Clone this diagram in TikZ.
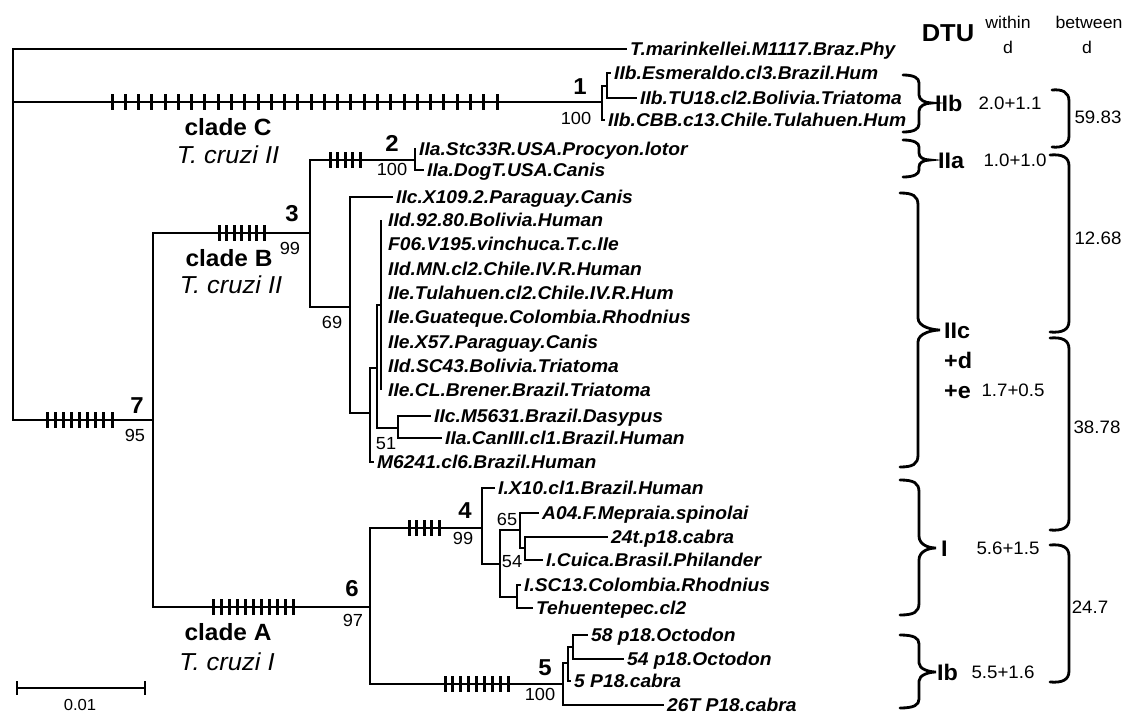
\documentclass[tikz,border=0pt]{standalone}
\usepackage{fontspec}
\setmainfont[FakeStretch=1.04]{Liberation Sans}
\newcommand\fTip{\fontsize{18.5}{21}\selectfont\bfseries\itshape}
\newcommand\fNum{\fontsize{23}{26}\selectfont\bfseries}
\newcommand\fBoot{\fontsize{17.5}{20}\selectfont}
\newcommand\fClade{\fontsize{23.5}{26}\selectfont\bfseries}
\newcommand\fCruzi{\fontsize{24.5}{27}\selectfont\itshape}
\newcommand\fDTU{\fontsize{24.5}{27}\selectfont\bfseries}
\newcommand\fHead{\fontsize{17}{19}\selectfont}
\newcommand\fGrp{\fontsize{22.5}{25}\selectfont\bfseries}
\newcommand\fVal{\fontsize{18}{21}\selectfont}
\newcommand\fBar{\fontsize{16}{19}\selectfont}
% ticks: x1, x2, y, n-1
\newcommand\tickrow[4]{\foreach \k in {0,...,#4}{\draw[tk] ({#1+\k*(#2-#1)/#4},#3-8) -- ++(0,16);}}
% DTU brace: x0, xv, xt, ytop, ymid, ybot, r
\newcommand\dbrace[7]{\draw[brace] (#1,#4) .. controls (#2-5,#4) and (#2,#4+3) .. (#2,#4+#7) -- (#2,#5-#7) .. controls (#2,#5-3) and (#3-7,#5) .. (#3,#5) .. controls (#3-7,#5) and (#2,#5+3) .. (#2,#5+#7) -- (#2,#6-#7) .. controls (#2,#6-3) and (#2-5,#6) .. (#1,#6);}
% between bracket: x0, xv, ytop, ybot
\newcommand\bbrace[4]{\draw[brace] (#1,#3) .. controls (#2-7,#3-1) and (#2,#3+2) .. (#2,#3+11) -- (#2,#4-11) .. controls (#2,#4-2) and (#2-7,#4+1) .. (#1,#4);}
\begin{document}
\begin{tikzpicture}[x=1pt,y=-1pt,
  br/.style={line width=2pt},
  tk/.style={line width=3pt},
  brace/.style={line width=2.8pt, line cap=round},
  tip/.style={font=\fTip, anchor=base west, inner sep=0pt, xshift=3pt, yshift=-6.6pt},
  num/.style={font=\fNum, anchor=base, inner sep=0pt, yshift=-8.2pt},
  boot/.style={font=\fBoot, anchor=base, inner sep=0pt, yshift=-6.3pt},
  clade/.style={font=\fClade, anchor=base, inner sep=0pt, yshift=-8.4pt},
  cruzi/.style={font=\fCruzi, anchor=base, inner sep=0pt, yshift=-8.8pt},
  head/.style={font=\fHead, anchor=base, inner sep=0pt, yshift=-6pt},
  grp/.style={font=\fGrp, anchor=base west, inner sep=0pt, yshift=-8pt},
  val/.style={font=\fVal, anchor=base, inner sep=0pt, yshift=-6.4pt}]
\useasboundingbox (0,0) rectangle (1128,715);
\fill[white] (0,0) rectangle (1128,715);
% ---------- internal nodes ----------
\coordinate (root) at (13,102);
\coordinate (n1) at (602,102);
\coordinate (n1a) at (607,86);
\coordinate (n7) at (153,420);
\coordinate (n3) at (310,233);
\coordinate (n2) at (415,160);
\coordinate (n69) at (350,307);
\coordinate (nC) at (370,413);
\coordinate (nB) at (377,368);
\coordinate (poly) at (381,305);
\coordinate (n51) at (398,428);
\coordinate (n6) at (370,607);
\coordinate (n4) at (482,528);
\coordinate (n54) at (500,564);
\coordinate (n65) at (520,530);
\coordinate (n65b) at (525,548);
\coordinate (nT) at (517,597);
\coordinate (n5) at (563,684);
\coordinate (n5a) at (568,663);
\coordinate (n5b) at (573,647);
% ---------- tips ----------
\coordinate (out) at (627,49);
\coordinate (esm) at (611,73);
\coordinate (tu) at (637,98);
\coordinate (cbb) at (605,120);
\coordinate (stc) at (416,149);
\coordinate (dog) at (424,170);
\coordinate (x109) at (393,197);
\coordinate (p1) at (381,220);
\coordinate (p2) at (381,244.3);
\coordinate (p3) at (381,268.6);
\coordinate (p4) at (381,292.9);
\coordinate (p5) at (381,317.1);
\coordinate (p6) at (381,341.4);
\coordinate (p7) at (381,365.7);
\coordinate (p8) at (381,390);
\coordinate (m56) at (431,416);
\coordinate (can) at (442,438);
\coordinate (m62) at (374,462);
\coordinate (x10) at (495,488);
\coordinate (a04) at (539,513);
\coordinate (t24) at (608,537);
\coordinate (cui) at (543,560);
\coordinate (sc13) at (521,585);
\coordinate (teh) at (533,608);
\coordinate (o58) at (588,635);
\coordinate (o54) at (624,659);
\coordinate (c5) at (571,681);
\coordinate (c26) at (664,705);
% ---------- branches ----------
\draw[br] (root) |- (out);
\draw[br] (root) |- (n1);
\draw[br] (root) |- (n7);
\draw[br] (n1) |- (n1a);
\draw[br] (n1) |- (cbb);
\draw[br] (n1a) |- (esm);
\draw[br] (n1a) |- (tu);
\draw[br] (n7) |- (n3);
\draw[br] (n7) |- (n6);
\draw[br] (n3) |- (n2);
\draw[br] (n3) |- (n69);
\draw[br] (n2) |- (stc);
\draw[br] (n2) |- (dog);
\draw[br] (n69) |- (x109);
\draw[br] (n69) |- (nC);
\draw[br] (nC) |- (nB);
\draw[br] (nC) |- (m62);
\draw[br] (nB) |- (poly);
\draw[br] (nB) |- (n51);
\draw[br] (poly) -- (p1);
\draw[br] (poly) -- (p8);
\draw[br] (n51) |- (m56);
\draw[br] (n51) |- (can);
\draw[br] (n6) |- (n4);
\draw[br] (n6) |- (n5);
\draw[br] (n4) |- (x10);
\draw[br] (n4) |- (n54);
\draw[br] (n54) |- (n65);
\draw[br] (n54) |- (nT);
\draw[br] (n65) |- (a04);
\draw[br] (n65) |- (n65b);
\draw[br] (n65b) |- (t24);
\draw[br] (n65b) |- (cui);
\draw[br] (nT) |- (sc13);
\draw[br] (nT) |- (teh);
\draw[br] (n5) |- (n5a);
\draw[br] (n5) |- (c26);
\draw[br] (n5a) |- (n5b);
\draw[br] (n5a) |- (c5);
\draw[br] (n5b) |- (o58);
\draw[br] (n5b) |- (o54);
% ---------- tick marks ----------
\tickrow{112}{497}{102}{29}
\tickrow{47}{112}{420}{8}
\tickrow{219}{264}{233}{6}
\tickrow{330}{360}{160}{4}
\tickrow{213}{293}{607}{10}
\tickrow{409}{439}{528}{4}
\tickrow{445}{508}{684}{8}
% ---------- tip labels ----------
\node[tip] (Lout) at (out) {T.marinkellei.M1117.Braz.Phy};
\node[tip] (Lesm) at (esm) {IIb.Esmeraldo.cl3.Brazil.Hum};
\node[tip] (Ltu) at (tu) {IIb.TU18.cl2.Bolivia.Triatoma};
\node[tip] (Lcbb) at (cbb) {IIb.CBB.c13.Chile.Tulahuen.Hum};
\node[tip] (Lstc) at (stc) {IIa.Stc33R.USA.Procyon.lotor};
\node[tip] (Ldog) at (dog) {IIa.DogT.USA.Canis};
\node[tip] (Lx109) at (x109) {IIc.X109.2.Paraguay.Canis};
\node[tip,xshift=4pt] (Lp1) at (p1) {IId.92.80.Bolivia.Human};
\node[tip,xshift=4pt] (Lp2) at (p2) {F06.V195.vinchuca.T.c.IIe};
\node[tip,xshift=4pt] (Lp3) at (p3) {IId.MN.cl2.Chile.IV.R.Human};
\node[tip,xshift=4pt] (Lp4) at (p4) {IIe.Tulahuen.cl2.Chile.IV.R.Hum};
\node[tip,xshift=4pt] (Lp5) at (p5) {IIe.Guateque.Colombia.Rhodnius};
\node[tip,xshift=4pt] (Lp6) at (p6) {IIe.X57.Paraguay.Canis};
\node[tip,xshift=4pt] (Lp7) at (p7) {IId.SC43.Bolivia.Triatoma};
\node[tip,xshift=4pt] (Lp8) at (p8) {IIe.CL.Brener.Brazil.Triatoma};
\node[tip] (Lm56) at (m56) {IIc.M5631.Brazil.Dasypus};
\node[tip] (Lcan) at (can) {IIa.CanIII.cl1.Brazil.Human};
\node[tip] (Lm62) at (m62) {M6241.cl6.Brazil.Human};
\node[tip] (Lx10) at (x10) {I.X10.cl1.Brazil.Human};
\node[tip] (La04) at (a04) {A04.F.Mepraia.spinolai};
\node[tip] (Lt24) at (t24) {24t.p18.cabra};
\node[tip] (Lcui) at (cui) {I.Cuica.Brasil.Philander};
\node[tip] (Lsc13) at (sc13) {I.SC13.Colombia.Rhodnius};
\node[tip] (Lteh) at (teh) {Tehuentepec.cl2};
\node[tip] (Lo58) at (o58) {58 p18.Octodon};
\node[tip] (Lo54) at (o54) {54 p18.Octodon};
\node[tip] (Lc5) at (c5) {5 P18.cabra};
\node[tip] (Lc26) at (c26) {26T P18.cabra};
% ---------- node numbers & support ----------
\node[num] (k1) at (580,86) {1};
\node[boot] (b1) at (576,118) {100};
\node[num] (k2) at (392,143) {2};
\node[boot] (b2) at (392,169) {100};
\node[num] (k3) at (292,213) {3};
\node[boot] (b3) at (290,248) {99};
\node[boot] (b69) at (332,322) {69};
\node[boot] (b51) at (386,443) {51};
\node[num] (k7) at (137,405) {7};
\node[boot] (b7) at (135,435) {95};
\node[num] (k6) at (352,588) {6};
\node[boot] (b6) at (353,620) {97};
\node[num] (k4) at (465,510) {4};
\node[boot] (b4) at (463,538) {99};
\node[boot] (b65) at (507,519) {65};
\node[boot] (b54) at (512,561) {54};
\node[num] (k5) at (545,667) {5};
\node[boot] (b5) at (540,694) {100};
% ---------- clade labels ----------
\node[clade] (cC) at (228,127) {clade C};
\node[cruzi] (tC) at (228,155) {T. cruzi II};
\node[clade] (cB) at (229,258) {clade B};
\node[cruzi] (tB) at (231,285) {T. cruzi II};
\node[clade] (cA) at (228,632) {clade A};
\node[cruzi] (tA) at (227,662) {T. cruzi I};
% ---------- scale bar ----------
\coordinate (sbL) at (17,688);
\coordinate (sbR) at (145,688);
\draw[br] (sbL) -- (sbR);
\draw[br] ([yshift=7pt]sbL) -- ([yshift=-7pt]sbL);
\draw[br] ([yshift=7pt]sbR) -- ([yshift=-7pt]sbR);
\node[font=\fBar, anchor=base, inner sep=0pt, yshift=-5.7pt] (sbt) at (80,705) {0.01};
% ---------- headers ----------
\node[font=\fDTU, anchor=base, inner sep=0pt, yshift=-8.8pt] (hD) at (948,33) {DTU};
\node[head] (hW) at (1008,22) {within};
\node[head] (hWd) at (1008,47) {d};
\node[head] (hB) at (1089,22) {between};
\node[head] (hBd) at (1087,47) {d};
% ---------- DTU braces ----------
\dbrace{903}{919}{932}{75}{103}{132}{8}
\dbrace{903}{919}{930}{140}{160}{177}{7}
\dbrace{900}{918}{940}{193}{330}{467}{12}
\dbrace{900}{919}{936}{480}{548}{615}{12}
\dbrace{900}{919}{936}{635}{672}{708}{9}
\node[grp] (gIIb) at (935,103) {IIb};
\node[grp] (gIIa) at (938,160) {IIa};
\node[grp] (gIIc) at (944,330) {IIc};
\node[grp] (gd) at (944,360) {+d};
\node[grp] (ge) at (944,390) {+e};
\node[grp] (gI) at (941,548) {I};
\node[grp] (gIb) at (937,672) {Ib};
\node[val] (vIIb) at (1010,103) {2.0+1.1};
\node[val] (vIIa) at (1015,160) {1.0+1.0};
\node[val] (vIIc) at (1013,390) {1.7+0.5};
\node[val] (vI) at (1008,548) {5.6+1.5};
\node[val] (vIb) at (1003,672) {5.5+1.6};
% ---------- between brackets ----------
\bbrace{1052}{1069}{90}{147}
\bbrace{1050}{1069}{155}{332}
\bbrace{1050}{1069}{338}{530}
\bbrace{1050}{1069}{545}{682}
\node[val] (d1) at (1098,117) {59.83};
\node[val] (d2) at (1098,238) {12.68};
\node[val] (d3) at (1097,427) {38.78};
\node[val] (d4) at (1090,607) {24.7};
\end{tikzpicture}
\end{document}
